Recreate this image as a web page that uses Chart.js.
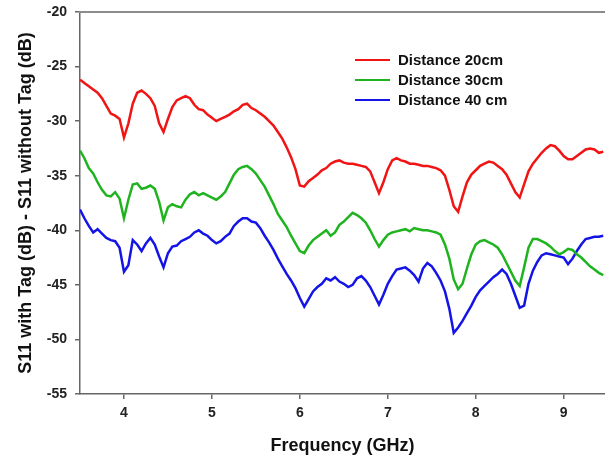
<!DOCTYPE html>
<html>
<head>
<meta charset="utf-8">
<script src="https://cdn.jsdelivr.net/npm/chart.js@4.4.1/dist/chart.umd.min.js"></script>
<style>
  html, body { margin: 0; padding: 0; background: #fff; }
  #wrap { width: 605px; height: 464px; }
</style>
</head>
<body>
<div id="wrap"><canvas id="s11Chart" width="605" height="464"></canvas></div>
<script>
// frequency sweep, GHz (rows of 0.5 GHz)
const freqGHz = [
  3.50, 3.55, 3.60, 3.65, 3.70, 3.75, 3.80, 3.85, 3.90, 3.95,
  4.00, 4.05, 4.10, 4.15, 4.20, 4.25, 4.30, 4.35, 4.40, 4.45,
  4.50, 4.55, 4.60, 4.65, 4.70, 4.75, 4.80, 4.85, 4.90, 4.95,
  5.00, 5.05, 5.10, 5.15, 5.20, 5.25, 5.30, 5.35, 5.40, 5.45,
  5.50, 5.55, 5.60, 5.65, 5.70, 5.75, 5.80, 5.85, 5.90, 5.95,
  6.00, 6.05, 6.10, 6.15, 6.20, 6.25, 6.30, 6.35, 6.40, 6.45,
  6.50, 6.55, 6.60, 6.65, 6.70, 6.75, 6.80, 6.85, 6.90, 6.95,
  7.00, 7.05, 7.10, 7.15, 7.20, 7.25, 7.30, 7.35, 7.40, 7.45,
  7.50, 7.55, 7.60, 7.65, 7.70, 7.75, 7.80, 7.85, 7.90, 7.95,
  8.00, 8.05, 8.10, 8.15, 8.20, 8.25, 8.30, 8.35, 8.40, 8.45,
  8.50, 8.55, 8.60, 8.65, 8.70, 8.75, 8.80, 8.85, 8.90, 8.95,
  9.00, 9.05, 9.10, 9.15, 9.20, 9.25, 9.30, 9.35, 9.40, 9.45
];

// S11 with tag - S11 without tag, dB
const dist20 = [
  -26.2, -26.5, -26.8, -27.1, -27.4, -27.9, -28.6, -29.3, -29.5, -29.8,
  -31.5, -30.2, -28.4, -27.4, -27.2, -27.5, -27.9, -28.6, -30.2, -31.0,
  -29.8, -28.7, -28.1, -27.9, -27.7, -27.9, -28.5, -28.9, -29.0, -29.4,
  -29.7, -30.0, -29.8, -29.6, -29.4, -29.1, -28.9, -28.5, -28.4, -28.8,
  -29.0, -29.3, -29.6, -30.0, -30.4, -31.0, -31.6, -32.4, -33.3, -34.4,
  -35.9, -36.0, -35.5, -35.2, -34.9, -34.5, -34.3, -33.9, -33.7, -33.6,
  -33.8, -33.9, -33.9, -34.0, -34.1, -34.2, -34.6, -35.6, -36.6, -35.6,
  -34.4, -33.6, -33.4, -33.6, -33.7, -33.9, -33.9, -34.0, -34.1, -34.1,
  -34.2, -34.3, -34.5, -35.0, -36.3, -37.8, -38.3, -36.9, -35.6, -34.9,
  -34.5, -34.1, -33.9, -33.7, -33.8, -34.1, -34.4, -34.9, -35.7, -36.5,
  -37.0, -35.8, -34.6, -33.9, -33.4, -32.9, -32.5, -32.2, -32.3, -32.7,
  -33.2, -33.5, -33.5, -33.2, -32.9, -32.6, -32.5, -32.6, -32.9, -32.8
];

const dist30 = [
  -32.7, -33.4, -34.3, -34.8, -35.6, -36.3, -36.8, -36.9, -36.5, -37.1,
  -38.9, -37.2, -35.8, -35.7, -36.2, -36.1, -35.9, -36.2, -37.4, -39.1,
  -37.9, -37.6, -37.8, -37.9, -37.2, -36.7, -36.5, -36.8, -36.6, -36.8,
  -37.0, -37.2, -36.9, -36.5, -35.7, -34.9, -34.4, -34.2, -34.1, -34.4,
  -34.8, -35.4, -36.0, -36.8, -37.6, -38.5, -39.1, -39.7, -40.5, -41.2,
  -41.9, -42.1, -41.4, -40.9, -40.6, -40.3, -40.0, -40.5, -40.2, -39.5,
  -39.2, -38.8, -38.4, -38.6, -38.9, -39.3, -40.0, -40.8, -41.5, -40.9,
  -40.4, -40.2, -40.1, -40.0, -39.9, -40.1, -39.8, -39.9, -40.0, -40.0,
  -40.1, -40.2, -40.4, -41.3, -42.6, -44.5, -45.4, -44.9, -43.5, -42.2,
  -41.3, -41.0, -40.9, -41.1, -41.3, -41.6, -42.2, -43.0, -43.8, -44.6,
  -45.1, -43.4, -41.6, -40.8, -40.8, -41.0, -41.2, -41.5, -41.9, -42.2,
  -42.0, -41.7, -41.8, -42.2, -42.5, -42.9, -43.3, -43.6, -43.9, -44.1
];

const dist40 = [
  -38.1, -38.9, -39.6, -40.2, -39.9, -40.3, -40.7, -40.9, -41.0, -41.6,
  -43.8, -43.2, -40.9, -41.3, -41.9, -41.2, -40.7, -41.3, -42.4, -43.4,
  -42.1, -41.5, -41.4, -41.0, -40.8, -40.6, -40.2, -40.0, -40.3, -40.5,
  -40.9, -41.2, -41.0, -40.6, -40.3, -39.6, -39.2, -38.9, -38.9, -39.2,
  -39.3, -39.8, -40.5, -41.1, -41.8, -42.6, -43.3, -44.0, -44.6, -45.3,
  -46.2, -47.0, -46.3, -45.6, -45.2, -44.9, -44.4, -44.6, -44.3, -44.7,
  -44.9, -45.2, -45.0, -44.4, -44.2, -44.6, -45.2, -46.0, -46.8, -45.9,
  -44.9, -44.2, -43.6, -43.5, -43.4, -43.7, -44.1, -44.7, -43.5, -43.0,
  -43.3, -43.9, -44.6, -45.6, -47.2, -49.4, -48.9, -48.3, -47.6, -46.9,
  -46.1, -45.5, -45.1, -44.7, -44.3, -44.0, -43.6, -44.0, -44.9, -46.0,
  -47.1, -46.9, -44.9, -43.7, -42.9, -42.3, -42.1, -42.2, -42.3, -42.4,
  -42.5, -43.1, -42.6, -41.9, -41.3, -40.8, -40.7, -40.6, -40.6, -40.5
];

const seriesLabels = ['Distance 20cm', 'Distance 30cm', 'Distance 40 cm'];
const xTicks = [4, 5, 6, 7, 8, 9];
const yTicks = [-55, -50, -45, -40, -35, -30, -25, -20];

const COLORS = ['#f01414', '#1fb41f', '#1414e6'];
const AXIS = '#666';
const FONT = 'Liberation Sans, Arial, sans-serif';

const toPoints = vals => freqGHz.map((f, i) => ({ x: f, y: vals[i] }));

// top frame line + legend drawn inside the plot, like the original figure
const framePlugin = {
  id: 'frame',
  afterDraw(chart) {
    const { ctx, chartArea: a } = chart;
    ctx.save();
    ctx.strokeStyle = '#8c8c8c';
    ctx.lineWidth = 2;
    ctx.beginPath();
    ctx.moveTo(a.left - 1, a.top);
    ctx.lineTo(a.right, a.top);
    ctx.stroke();

    ctx.font = 'bold 15px ' + FONT;
    ctx.textBaseline = 'middle';
    ctx.fillStyle = '#111';
    chart.data.datasets.forEach((ds, i) => {
      const y = 60 + i * 20;
      ctx.strokeStyle = ds.borderColor;
      ctx.lineWidth = 2;
      ctx.beginPath();
      ctx.moveTo(355, y);
      ctx.lineTo(390, y);
      ctx.stroke();
      ctx.fillText(ds.label, 398, y + 1);
    });
    ctx.restore();
  }
};

new Chart(document.getElementById('s11Chart'), {
  type: 'line',
  data: {
    datasets: [dist20, dist30, dist40].map((vals, i) => ({
      label: seriesLabels[i],
      data: toPoints(vals),
      borderColor: COLORS[i],
      borderWidth: 2.5,
      pointRadius: 0,
      tension: 0,
      fill: false,
    })),
  },
  options: {
    responsive: false,
    animation: false,
    devicePixelRatio: 1,
    layout: { padding: { top: 12, right: 0, bottom: 0, left: 0 } },
    plugins: { legend: { display: false }, tooltip: { enabled: false } },
    scales: {
      x: {
        type: 'linear',
        min: 3.5,
        max: 9.47,
        afterBuildTicks: s => { s.ticks = xTicks.map(v => ({ value: v })); },
        afterFit: s => { s.height = 70; s.paddingRight = 0; },
        grid: { drawOnChartArea: false, drawTicks: true, tickLength: 5, color: AXIS, lineWidth: 1.5 },
        border: { color: AXIS, width: 1.5 },
        ticks: { font: { family: FONT, size: 14, weight: 'bold' }, color: '#222', padding: 6, maxRotation: 0 },
        title: {
          display: true,
          text: 'Frequency (GHz)',
          font: { family: FONT, size: 18, weight: 'bold' },
          color: '#111',
          padding: { top: 0, bottom: 7 },
        },
      },
      y: {
        type: 'linear',
        min: -55,
        max: -20,
        afterBuildTicks: s => { s.ticks = yTicks.map(v => ({ value: v })); },
        afterFit: s => { s.width = 80; s.paddingTop = 0; s.paddingBottom = 0; },
        grid: { drawOnChartArea: false, drawTicks: true, tickLength: 5, color: AXIS, lineWidth: 1.5 },
        border: { color: AXIS, width: 1.5 },
        ticks: { font: { family: FONT, size: 14, weight: 'bold' }, color: '#222', padding: 8 },
        title: {
          display: true,
          text: 'S11 with Tag (dB) - S11 without Tag (dB)',
          font: { family: FONT, size: 18, weight: 'bold' },
          color: '#111',
          padding: { top: 15, bottom: 0 },
        },
      },
    },
  },
  plugins: [framePlugin],
});
</script>
</body>
</html>
